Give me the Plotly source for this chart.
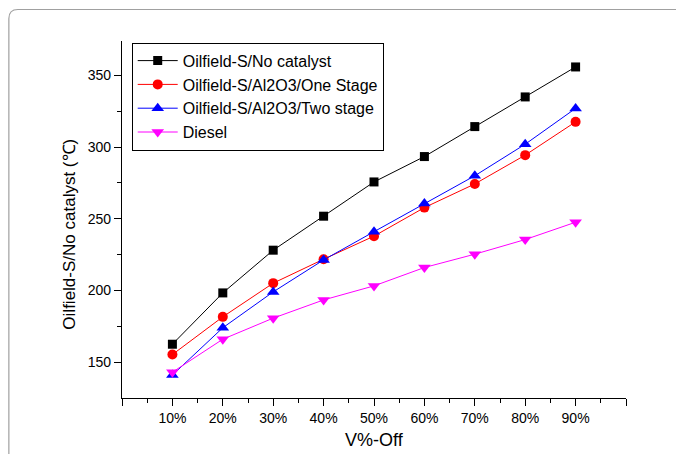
import plotly.graph_objects as go

x_pos = [10, 20, 30, 40, 50, 60, 70, 80, 90]
x_labels = ["10%", "20%", "30%", "40%", "50%", "60%", "70%", "80%", "90%"]

no_catalyst = [162.5, 198.3, 228.1, 251.8, 275.7, 293.4, 314.3, 335.0, 355.9]
one_stage = [155.3, 181.6, 205.1, 221.8, 237.9, 257.8, 274.3, 294.4, 317.6]
two_stage = [141.0, 174.0, 199.0, 221.3, 241.0, 260.6, 280.0, 302.0, 327.0]
diesel = [143.0, 166.0, 180.7, 193.4, 203.2, 216.0, 225.3, 235.5, 247.6]

names = ["Oilfield-S/No catalyst", "Oilfield-S/Al2O3/One Stage",
         "Oilfield-S/Al2O3/Two stage", "Diesel"]
series = [no_catalyst, one_stage, two_stage, diesel]
colors = ["#000000", "#ff0000", "#0000ff", "#ff00ff"]
symbols = ["square", "circle", "triangle-up", "triangle-down"]
sizes = [9, 10, 11, 11]

FONT = "Arial, 'Liberation Sans', sans-serif"

fig = go.Figure()
for n, s, c, sym, sz in zip(names, series, colors, symbols, sizes):
    fig.add_trace(go.Scatter(
        x=x_pos, y=s, name=n, mode="lines+markers",
        line=dict(color=c, width=1),
        marker=dict(symbol=sym, size=sz, color=c),
    ))

# plot area in pixels
L, R, T, B = 122.3, 625.7, 41.0, 398.0
W, H = 676, 454

def px(xp):
    return (xp - L) / (R - L)

def py(yp):
    return (B - yp) / (B - T)

# rounded card border (top-left corner visible)
x0, y0, rr = 9.3, 9.5, 9
path = (f"M {px(x0)},{py(470)} L {px(x0)},{py(y0 + rr)} "
        f"Q {px(x0)},{py(y0)} {px(x0 + rr)},{py(y0)} L {px(700)},{py(y0)}")

fig.update_layout(
    width=W, height=H,
    margin=dict(l=L, r=W - R, t=T, b=H - B),
    paper_bgcolor="white", plot_bgcolor="white",
    font=dict(family=FONT, size=14, color="black"),
    showlegend=True,
    legend=dict(
        x=px(132), y=py(42.7), xanchor="left", yanchor="top",
        bgcolor="white", bordercolor="black", borderwidth=1,
        font=dict(size=16, family=FONT),
        tracegroupgap=0, itemwidth=40,
    ),
    shapes=[dict(type="path", xref="paper", yref="paper", path=path,
                 line=dict(color="#a0a0a0", width=1.2), layer="below")],
    annotations=[
        dict(text="V%-Off", xref="paper", yref="paper", x=px(374), y=py(440),
             showarrow=False, font=dict(size=18, family=FONT),
             xanchor="center", yanchor="middle"),
        dict(text="Oilfield-S/No catalyst (℃)", xref="paper", yref="paper",
             x=px(69), y=py(234), textangle=-90, showarrow=False,
             font=dict(size=17, family=FONT), xanchor="center", yanchor="middle"),
    ],
)

fig.update_xaxes(
    range=[0, 100], showgrid=False, zeroline=False,
    showline=True, linecolor="black", linewidth=1.2,
    tickmode="array", tickvals=[0] + x_pos + [100],
    ticktext=[""] + x_labels + [""],
    ticks="outside", ticklen=7, tickwidth=1.2, tickcolor="black",
    tickfont=dict(size=14, family=FONT),
    minor=dict(tickvals=[5, 15, 25, 35, 45, 55, 65, 75, 85, 95],
               ticks="outside", ticklen=4, tickwidth=1.2, tickcolor="black"),
)
fig.update_yaxes(
    range=[125, 374], showgrid=False, zeroline=False,
    showline=True, linecolor="black", linewidth=1.2,
    tickmode="array", tickvals=[150, 200, 250, 300, 350],
    ticks="outside", ticklen=7, tickwidth=1.2, tickcolor="black",
    tickfont=dict(size=14, family=FONT),
    minor=dict(tickvals=[175, 225, 275, 325],
               ticks="outside", ticklen=4, tickwidth=1.2, tickcolor="black"),
)

fig.write_html("out.html")
